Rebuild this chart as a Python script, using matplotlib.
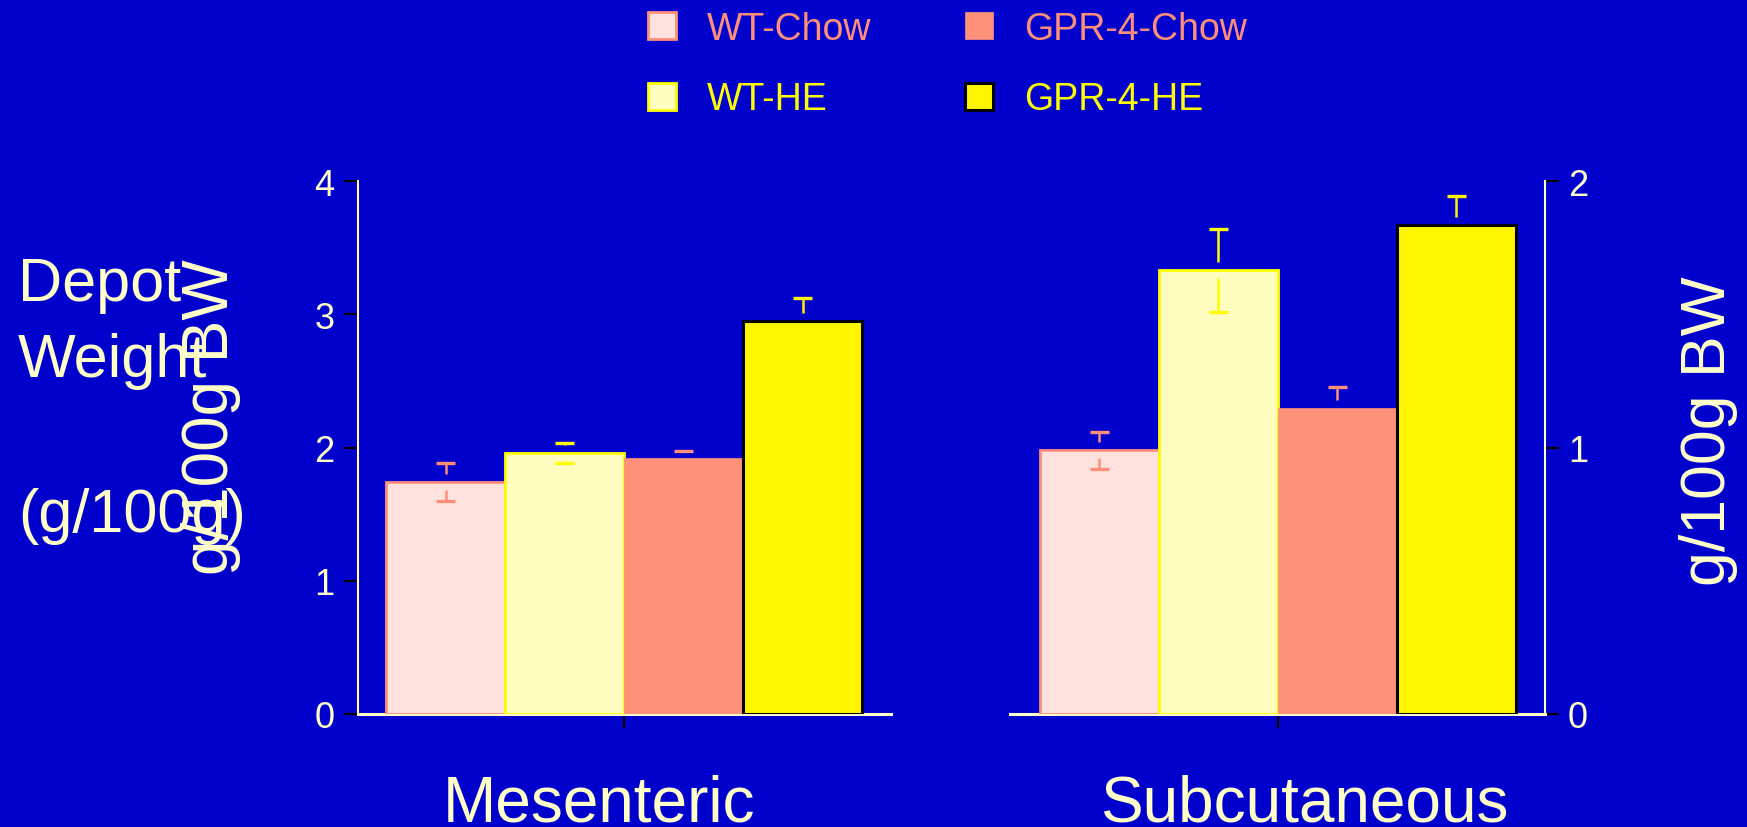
import matplotlib

matplotlib.use("Agg")
import matplotlib.pyplot as plt

plt.rcParams["font.family"] = ["Liberation Sans", "DejaVu Sans"]

groups = ["WT-Chow", "WT-HE", "GPR-4-Chow", "GPR-4-HE"]
mesenteric_mean = [1.74, 1.96, 1.92, 2.95]
mesenteric_err = [0.14, 0.075, 0.055, 0.17]
subcutaneous_mean = [0.99, 1.665, 1.148, 1.835]
subcutaneous_err = [0.07, 0.155, 0.08, 0.107]
left_ticks = [0, 1, 2, 3, 4]
right_ticks = [0, 1, 2]

BG = "#0000CC"
CREAM = "#FFFFC8"
SALMON = "#FF8F7A"
fills = ["#FFE2DE", "#FFFDC0", "#FF917A", "#FFF500"]
edges = [SALMON, "#FFFF00", "#FF917A", "black"]
err_colors = [SALMON, "#FFFF00", "#FF917A", "#FFF500"]
text_colors = [SALMON, "#FFFF00", SALMON, "#FFFF00"]
edge_widths = [2.0, 2.0, 0.5, 2.2]

W, H = 1747, 828
offsets = [-1.5, -0.5, 0.5, 1.5]


def _draw_group(ax, means, errs, gap):
    handles = []
    for off, m, e, fc, ec, lw, cc in zip(offsets, means, errs, fills, edges, edge_widths, err_colors):
        h = ax.bar(off, m, width=1.0, color=fc, edgecolor=ec, linewidth=lw, zorder=3)
        handles.append(h)
        ax.vlines(off, m + gap, m + e, color=cc, lw=1.8, zorder=4)
        ax.vlines(off, m - e, m - gap, color=cc, lw=1.8, zorder=4)
        ax.hlines([m + e, m - e], off - 0.08, off + 0.08, color=cc, lw=2.4, zorder=4)
    return handles


def _style(ax, side):
    ax.set_facecolor(BG)
    for s in ax.spines.values():
        s.set_visible(False)
    ax.spines["bottom"].set_visible(True)
    ax.spines["bottom"].set_color(CREAM)
    ax.spines["bottom"].set_linewidth(2.2)
    ax.spines[side].set_visible(True)
    ax.spines[side].set_color(CREAM)
    ax.spines[side].set_linewidth(1.5)
    ax.set_xticks([0])
    ax.set_xticklabels([])
    ax.tick_params(axis="x", length=10, width=1.6, color="black", direction="out")
    ax.tick_params(axis="y", length=10, width=1.6, color="black", direction="out",
                   labelsize=26, labelcolor=CREAM, pad=6.5)


fig = plt.figure(figsize=(W / 100, H / 100), dpi=100, facecolor=BG)

y0, y_top = 715, 182
unit = 119.0

# left panel: Mesenteric
lx0, lx1, lc = 357.5, 891, 624
ax1 = fig.add_axes([lx0 / W, 1 - y0 / H, (lx1 - lx0) / W, (y0 - y_top) / H])
handles = _draw_group(ax1, mesenteric_mean, mesenteric_err, 0.06)
ax1.set_xlim(-(lc - lx0) / unit, (lx1 - lc) / unit)
ax1.set_ylim(0, 4)
ax1.set_yticks(left_ticks)
_style(ax1, "left")

# right panel: Subcutaneous
rx0, rx1, rc = 1010, 1545, 1278
ax2 = fig.add_axes([rx0 / W, 1 - y0 / H, (rx1 - rx0) / W, (y0 - y_top) / H])
_draw_group(ax2, subcutaneous_mean, subcutaneous_err, 0.03)
ax2.set_xlim(-(rc - rx0) / unit, (rx1 - rc) / unit)
ax2.set_ylim(0, 2)
ax2.yaxis.tick_right()
ax2.set_yticks(right_ticks)
_style(ax2, "right")

# labels
fig.text(18 / W, 1 - 301 / H, "Depot", color=CREAM, fontsize=44, va="baseline")
fig.text(18 / W, 1 - 377 / H, "Weight", color=CREAM, fontsize=44, va="baseline")
fig.text(18 / W, 1 - 532 / H, "(g/100g)", color=CREAM, fontsize=44, va="baseline")
fig.text(211 / W, 1 - 417 / H, "g/100g BW", color=CREAM, fontsize=46, rotation=90,
         ha="center", va="center")
fig.text(1708 / W, 1 - 431 / H, "g/100g BW", color=CREAM, fontsize=45, rotation=90,
         ha="center", va="center")
fig.text(599 / W, 1 - 822 / H, "Mesenteric", color=CREAM, fontsize=46, ha="center", va="baseline")
fig.text(1304 / W, 1 - 822 / H, "Subcutaneous", color=CREAM, fontsize=46, ha="center", va="baseline")

leg = fig.legend(handles, groups, ncol=2, loc="upper left", bbox_to_anchor=(640 / W, 1 - 4 / H),
                 frameon=False, fontsize=27, labelcolor=text_colors, borderaxespad=0,
                 handlelength=0.75, handleheight=0.72, handletextpad=0.83,
                 columnspacing=2.5, labelspacing=0.93, borderpad=0.2)

fig.savefig("out.png", dpi=100, facecolor=BG)
